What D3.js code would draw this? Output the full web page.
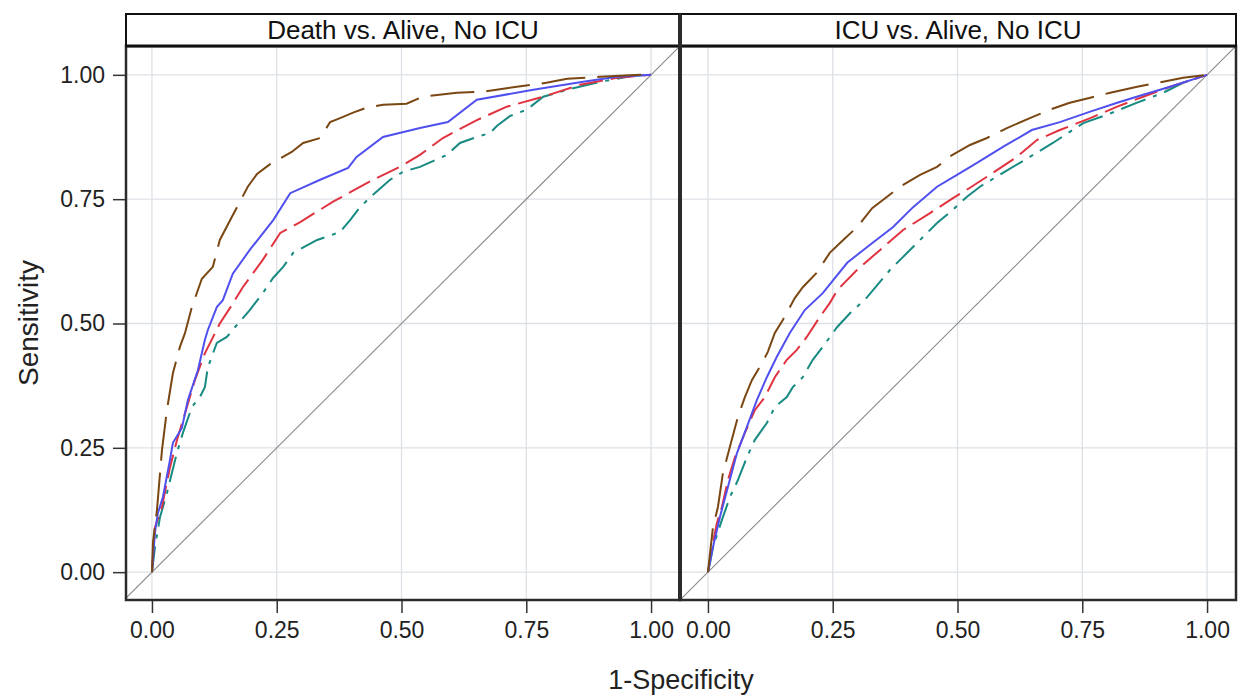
<!DOCTYPE html>
<html>
<head>
<meta charset="utf-8">
<script src="https://cdn.jsdelivr.net/npm/d3@7"></script>
<style>
  body { margin: 0; background: #fff; }
  svg { display: block; font-family: "Liberation Sans", Arial, sans-serif; }
</style>
</head>
<body>
<svg id="chart" width="1242" height="698"></svg>
<script>
// panel titles and tick values
const panelTitles = ["Death vs. Alive, No ICU", "ICU vs. Alive, No ICU"]
const tickValues = [0, 0.25, 0.5, 0.75, 1]

// [1-specificity, sensitivity]
const deathBrown = [[0,0],[0.002,0.06],[0.01,0.125],[0.02,0.245],[0.03,0.326],[0.042,0.40],[0.056,0.453],[0.066,0.48],[0.08,0.533],[0.10,0.59],[0.122,0.614],[0.136,0.668],[0.16,0.714],[0.192,0.775],[0.21,0.80],[0.236,0.82],[0.28,0.845],[0.303,0.863],[0.337,0.873],[0.357,0.905],[0.377,0.913],[0.403,0.924],[0.43,0.934],[0.463,0.94],[0.51,0.942],[0.543,0.956],[0.611,0.964],[0.663,0.966],[0.731,0.976],[0.79,0.984],[0.832,0.992],[0.898,0.996],[0.978,1],[1,1]]
const deathBlue = [[0,0],[0.006,0.08],[0.012,0.119],[0.022,0.151],[0.036,0.225],[0.042,0.26],[0.06,0.29],[0.072,0.346],[0.092,0.406],[0.106,0.467],[0.112,0.487],[0.13,0.533],[0.142,0.547],[0.162,0.60],[0.196,0.648],[0.243,0.708],[0.277,0.762],[0.337,0.789],[0.393,0.813],[0.41,0.835],[0.463,0.875],[0.537,0.893],[0.593,0.905],[0.651,0.95],[0.764,0.97],[0.864,0.986],[0.932,0.996],[1,1]]
const deathRed = [[0,0],[0.006,0.09],[0.02,0.131],[0.036,0.21],[0.05,0.265],[0.07,0.332],[0.086,0.386],[0.106,0.44],[0.136,0.50],[0.162,0.54],[0.182,0.573],[0.222,0.628],[0.257,0.682],[0.297,0.704],[0.363,0.745],[0.443,0.789],[0.497,0.815],[0.537,0.839],[0.583,0.873],[0.651,0.909],[0.711,0.936],[0.784,0.956],[0.858,0.98],[0.932,0.994],[1,1]]
const deathTeal = [[0,0],[0.006,0.05],[0.016,0.11],[0.03,0.159],[0.05,0.24],[0.062,0.28],[0.08,0.332],[0.096,0.352],[0.106,0.372],[0.112,0.412],[0.13,0.461],[0.15,0.473],[0.17,0.497],[0.196,0.527],[0.222,0.561],[0.243,0.592],[0.263,0.614],[0.283,0.642],[0.331,0.668],[0.377,0.684],[0.397,0.708],[0.417,0.734],[0.443,0.759],[0.477,0.789],[0.503,0.805],[0.537,0.815],[0.591,0.839],[0.617,0.863],[0.651,0.875],[0.677,0.883],[0.691,0.897],[0.717,0.917],[0.751,0.93],[0.784,0.956],[0.832,0.97],[0.898,0.986],[0.964,0.998],[1,1]]

const icuBrown = [[0,0],[0.01,0.09],[0.02,0.131],[0.03,0.199],[0.044,0.252],[0.06,0.312],[0.074,0.352],[0.088,0.386],[0.108,0.42],[0.12,0.443],[0.134,0.481],[0.15,0.507],[0.174,0.551],[0.19,0.573],[0.218,0.602],[0.244,0.642],[0.271,0.668],[0.299,0.694],[0.329,0.732],[0.355,0.752],[0.385,0.775],[0.425,0.799],[0.459,0.815],[0.485,0.836],[0.525,0.859],[0.559,0.873],[0.599,0.893],[0.645,0.913],[0.685,0.93],[0.725,0.944],[0.766,0.954],[0.806,0.964],[0.86,0.976],[0.912,0.986],[0.952,0.994],[1,1]]
const icuBlue = [[0,0],[0.01,0.05],[0.024,0.111],[0.04,0.171],[0.058,0.239],[0.078,0.292],[0.098,0.346],[0.118,0.392],[0.138,0.433],[0.164,0.481],[0.194,0.527],[0.23,0.561],[0.279,0.622],[0.319,0.654],[0.371,0.694],[0.411,0.734],[0.459,0.775],[0.499,0.799],[0.539,0.823],[0.591,0.855],[0.649,0.889],[0.705,0.905],[0.766,0.926],[0.82,0.944],[0.872,0.96],[0.926,0.976],[1,1]]
const icuRed = [[0,0],[0.008,0.05],[0.018,0.099],[0.028,0.131],[0.04,0.185],[0.054,0.231],[0.074,0.28],[0.094,0.326],[0.114,0.352],[0.134,0.392],[0.158,0.427],[0.178,0.447],[0.198,0.473],[0.224,0.513],[0.244,0.541],[0.259,0.567],[0.299,0.608],[0.345,0.648],[0.391,0.688],[0.445,0.722],[0.491,0.752],[0.525,0.773],[0.565,0.799],[0.619,0.835],[0.659,0.869],[0.705,0.889],[0.766,0.913],[0.82,0.936],[0.872,0.956],[0.926,0.976],[1,1]]
const icuTeal = [[0,0],[0.004,0.018],[0.01,0.05],[0.028,0.105],[0.044,0.151],[0.06,0.185],[0.078,0.231],[0.094,0.266],[0.118,0.30],[0.134,0.332],[0.158,0.352],[0.17,0.372],[0.19,0.392],[0.21,0.427],[0.23,0.453],[0.259,0.493],[0.285,0.521],[0.319,0.553],[0.365,0.608],[0.391,0.634],[0.425,0.668],[0.459,0.702],[0.491,0.729],[0.519,0.755],[0.545,0.775],[0.591,0.803],[0.645,0.835],[0.691,0.863],[0.752,0.903],[0.80,0.92],[0.86,0.944],[0.912,0.964],[0.952,0.984],[1,1]]

// line styles per series
const seriesStyle = [
    { color: "#178a82", dash: "26,8,4,8" },
    { color: "#e0333f", dash: "24,8" },
    { color: "#5050ee", dash: null },
    { color: "#7a4712", dash: "44,12" }
]
const panelData = [
    [deathTeal, deathRed, deathBlue, deathBrown],
    [icuTeal, icuRed, icuBlue, icuBrown]
]

const PANEL_TOP = 46
const PANEL_BOTTOM = 600
const STRIP_TOP = 14
const panelX = [[126, 680], [680, 1236]]
const X_DOMAIN = [[-0.052, 1.058], [-0.056, 1.058]]
const FONT = "Liberation Sans, Arial, sans-serif"

var svg = d3.select("#chart")

var y = d3.scaleLinear().domain([-0.056, 1.058]).range([PANEL_BOTTOM, PANEL_TOP])

var defs = svg.append("defs")

panelData.forEach(function (series, p) {
    var x = d3.scaleLinear().domain(X_DOMAIN[p]).range(panelX[p])
    var g = svg.append("g")
    var left = panelX[p][0], right = panelX[p][1]

    defs.append("clipPath").attr("id", "clip" + p)
        .append("rect")
        .attr("x", left).attr("y", PANEL_TOP)
        .attr("width", right - left).attr("height", PANEL_BOTTOM - PANEL_TOP)

    // grid
    g.selectAll("line.vgrid").data(tickValues).enter().append("line")
        .attr("x1", d => x(d)).attr("x2", d => x(d))
        .attr("y1", PANEL_TOP).attr("y2", PANEL_BOTTOM)
        .attr("stroke", "#dde1e6").attr("stroke-width", 1.3)
    g.selectAll("line.hgrid").data(tickValues).enter().append("line")
        .attr("x1", left).attr("x2", right)
        .attr("y1", d => y(d)).attr("y2", d => y(d))
        .attr("stroke", "#dde1e6").attr("stroke-width", 1.3)

    var plot = g.append("g").attr("clip-path", "url(#clip" + p + ")")

    // reference diagonal
    plot.append("line")
        .attr("x1", x(X_DOMAIN[p][0])).attr("y1", y(X_DOMAIN[p][0]))
        .attr("x2", x(X_DOMAIN[p][1])).attr("y2", y(X_DOMAIN[p][1]))
        .attr("stroke", "#8a8a8a").attr("stroke-width", 1.1)

    var line = d3.line().x(d => x(d[0])).y(d => y(d[1]))
    series.forEach(function (pts, i) {
        plot.append("path")
            .attr("d", line(pts))
            .attr("fill", "none")
            .attr("stroke", seriesStyle[i].color)
            .attr("stroke-width", 2)
            .attr("stroke-dasharray", seriesStyle[i].dash)
    })

    // panel border
    g.append("rect")
        .attr("x", left).attr("y", PANEL_TOP)
        .attr("width", right - left).attr("height", PANEL_BOTTOM - PANEL_TOP)
        .attr("fill", "none").attr("stroke", "#2b2b2b").attr("stroke-width", 2.5)

    // strip
    g.append("rect")
        .attr("x", left).attr("y", STRIP_TOP)
        .attr("width", right - left).attr("height", PANEL_TOP - STRIP_TOP)
        .attr("fill", "#fff").attr("stroke", "#111").attr("stroke-width", 2)
    g.append("line")
        .attr("x1", left).attr("x2", right)
        .attr("y1", PANEL_TOP).attr("y2", PANEL_TOP)
        .attr("stroke", "#111").attr("stroke-width", 3)
    g.append("text")
        .attr("x", (left + right) / 2).attr("y", (STRIP_TOP + PANEL_TOP) / 2)
        .attr("dy", "0.36em")
        .attr("text-anchor", "middle")
        .attr("font-size", 26)
        .attr("fill", "#111")
        .text(panelTitles[p])

    // x axis
    var xAxis = g.append("g")
        .attr("transform", "translate(0," + (PANEL_BOTTOM + 1) + ")")
        .call(d3.axisBottom(x).tickValues(tickValues).tickFormat(d3.format(".2f")).tickSize(12).tickPadding(9))
    xAxis.select(".domain").remove()
    xAxis.selectAll("line").attr("stroke", "#333").attr("stroke-width", 1.5)
    xAxis.selectAll("text").attr("font-size", 23).attr("fill", "#222")
        .attr("font-family", FONT)
})

// thicker divider where the two panels meet
svg.append("line")
    .attr("x1", panelX[1][0]).attr("x2", panelX[1][0])
    .attr("y1", STRIP_TOP).attr("y2", PANEL_BOTTOM)
    .attr("stroke", "#2b2b2b").attr("stroke-width", 4)

// y axis on the left panel only
var yAxis = svg.append("g")
    .attr("transform", "translate(" + (panelX[0][0] - 1) + ",0)")
    .call(d3.axisLeft(y).tickValues(tickValues).tickFormat(d3.format(".2f")).tickSize(12).tickPadding(8))
yAxis.select(".domain").remove()
yAxis.selectAll("line").attr("stroke", "#333").attr("stroke-width", 1.5)
yAxis.selectAll("text").attr("font-size", 23).attr("fill", "#222")
    .attr("font-family", FONT)

// axis titles
svg.append("text")
    .attr("x", 681).attr("y", 689)
    .attr("text-anchor", "middle")
    .attr("font-size", 27)
    .attr("fill", "#222")
    .text("1-Specificity")
svg.append("text")
    .attr("transform", "translate(38," + ((PANEL_TOP + PANEL_BOTTOM) / 2) + ") rotate(-90)")
    .attr("text-anchor", "middle")
    .attr("font-size", 28)
    .attr("fill", "#222")
    .text("Sensitivity")
</script>
</body>
</html>
